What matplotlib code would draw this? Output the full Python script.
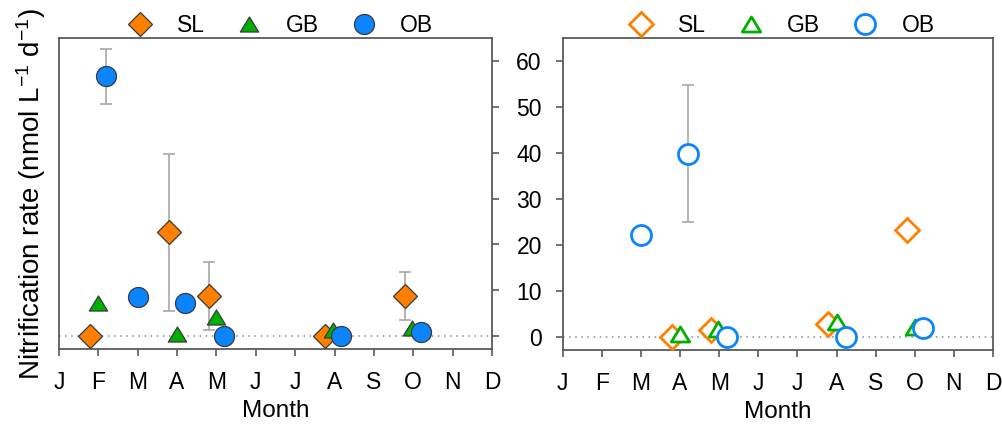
import matplotlib
matplotlib.use("Agg")
import matplotlib.pyplot as plt
from matplotlib.path import Path

plt.rcParams['font.family'] = ['Liberation Sans', 'DejaVu Sans']
plt.rcParams['mathtext.fontset'] = 'custom'
plt.rcParams['mathtext.rm'] = 'Liberation Sans'
plt.rcParams['mathtext.it'] = 'Liberation Sans'

# Month axis: 0 = January ... 11 = December
months = ["J", "F", "M", "A", "M", "J", "J", "A", "S", "O", "N", "D"]

# Left panel (filled symbols)
sl_x_a = [0.8, 2.8, 3.8, 6.77, 8.78]
sl_y_a = [0.0, 22.6, 8.7, 0.0, 8.7]
sl_e_a = [0.0, 17.2, 7.5, 0.0, 5.2]
gb_x_a = [1.0, 3.0, 4.0, 6.97, 8.98]
gb_y_a = [7.2, 0.4, 4.0, 1.2, 1.7]
ob_x_a = [1.2, 2.0, 3.2, 4.2, 7.17, 9.2]
ob_y_a = [56.7, 8.5, 7.1, 0.0, 0.0, 0.9]
ob_e_a = [6.0, 0.0, 0.0, 0.0, 0.0, 0.0]

# Right panel (open symbols)
sl_x_b = [2.79, 3.79, 6.79, 8.81]
sl_y_b = [0.0, 1.4, 2.7, 23.3]
gb_x_b = [3.0, 3.98, 7.02, 9.01]
gb_y_b = [0.5, 1.6, 3.1, 2.1]
ob_x_b = [2.0, 3.21, 4.19, 7.24, 9.22]
ob_y_b = [22.2, 39.9, 0.0, 0.0, 2.0]
ob_e_b = [0.0, 15.0, 0.0, 0.0, 0.0]

series_names = ["SL", "GB", "OB"]
c_sl = "#FF8000"
c_gb = "#00B000"
c_ob = "#0A84FF"
edge = "#3a3a3a"
spine_c = "#5a5a5a"
err_c = "#a8a8a8"

tri = Path([(0, 0.82), (-1, -0.82), (1, -0.82), (0, 0.82)],
           [Path.MOVETO, Path.LINETO, Path.LINETO, Path.CLOSEPOLY])

ms_d, ms_t, ms_o = 12.0, 13.2, 14.4

fig = plt.figure(figsize=(10.03, 4.28), dpi=100)
ax1 = fig.add_axes([0.0588, 0.1846, 0.4317, 0.7266])
ax2 = fig.add_axes([0.561, 0.1822, 0.429, 0.7290])


def errbars(ax, xs, ys, es):
    for x, y, e in zip(xs, ys, es):
        if e > 0:
            ax.errorbar([x], [y], yerr=[e], fmt='none', ecolor=err_c,
                        elinewidth=1.2, capsize=4, capthick=1.2, zorder=2)


def style(ax):
    ax.set_xlim(0, 11)
    ax.set_ylim(-2.9, 65.1)
    ax.set_xticks(range(12))
    ax.set_xticklabels(months)
    ax.axhline(0, color="#8a8a8a", lw=1.1, ls=(0, (1, 3)), zorder=1)
    for s in ax.spines.values():
        s.set_color(spine_c)
        s.set_linewidth(1.3)
    ax.tick_params(axis='x', direction='out', length=5, width=1.2,
                   color=spine_c, labelsize=16.5, pad=11)
    ax.set_xlabel("Month", fontsize=17.5, labelpad=4)
    ax.set_yticks(range(0, 61, 10))


def legend(ax, x):
    ax.legend(loc='lower center', bbox_to_anchor=(x, 0.975), ncol=3,
              frameon=False, fontsize=16.5, handletextpad=1.0,
              columnspacing=1.35, borderaxespad=0, handlelength=1.2)


# Left panel
errbars(ax1, sl_x_a, sl_y_a, sl_e_a)
errbars(ax1, ob_x_a, ob_y_a, ob_e_a)
ax1.plot(sl_x_a, sl_y_a, ls='none', marker='D', ms=ms_d, mfc=c_sl,
         mec=edge, mew=0.9, zorder=3, label=series_names[0])
ax1.plot(gb_x_a, gb_y_a, ls='none', marker=tri, ms=ms_t, mfc=c_gb,
         mec=edge, mew=0.9, zorder=4, label=series_names[1])
ax1.plot(ob_x_a, ob_y_a, ls='none', marker='o', ms=ms_o, mfc=c_ob,
         mec=edge, mew=0.9, zorder=5, label=series_names[2])
style(ax1)
ax1.yaxis.tick_right()
ax1.tick_params(axis='y', direction='out', length=5, width=1.2,
                color=spine_c, labelright=False, labelleft=False)
ax1.set_ylabel("Nitrification rate (nmol L$^{-1}$ d$^{-1}$)", fontsize=20,
               labelpad=8)
legend(ax1, 0.51)

# Right panel
errbars(ax2, ob_x_b, ob_y_b, ob_e_b)
ax2.plot(sl_x_b, sl_y_b, ls='none', marker='D', ms=ms_d, mfc='white',
         mec=c_sl, mew=2.0, zorder=3, label=series_names[0])
ax2.plot(gb_x_b, gb_y_b, ls='none', marker=tri, ms=ms_t, mfc='white',
         mec=c_gb, mew=2.0, zorder=4, label=series_names[1])
ax2.plot(ob_x_b, ob_y_b, ls='none', marker='o', ms=ms_o, mfc='white',
         mec=c_ob, mew=2.0, zorder=5, label=series_names[2])
style(ax2)
ax2.tick_params(axis='y', direction='out', length=5, width=1.2,
                color=spine_c, labelsize=16.5, pad=10)
legend(ax2, 0.508)

fig.savefig("out.png", dpi=100)
